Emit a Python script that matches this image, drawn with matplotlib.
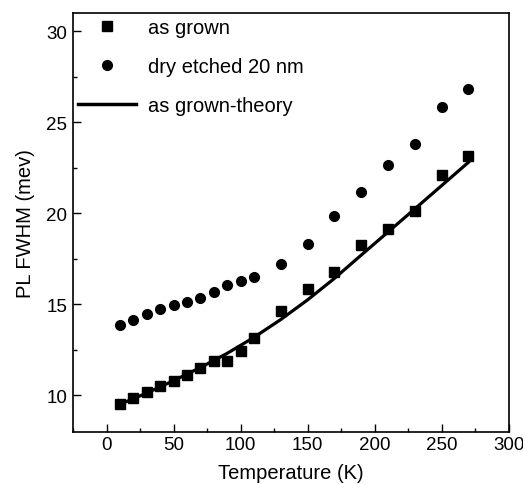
import matplotlib
matplotlib.use("Agg")
import matplotlib.pyplot as plt
from matplotlib.ticker import MultipleLocator
from matplotlib.lines import Line2D

plt.rcParams['font.family'] = ['Liberation Sans', 'DejaVu Sans']

temps = [10, 20, 30, 40, 50, 60, 70, 80, 90, 100, 110, 130, 150, 170, 190, 210, 230, 250, 270]
as_grown = [9.5, 9.85, 10.15, 10.48, 10.79, 11.12, 11.48, 11.89, 11.89, 12.45, 13.17,
            14.63, 15.81, 16.79, 18.24, 19.14, 20.13, 22.1, 23.13]
dry_etched = [13.85, 14.14, 14.45, 14.73, 14.95, 15.1, 15.37, 15.68, 16.04, 16.28, 16.47,
              17.2, 18.3, 19.86, 21.18, 22.63, 23.82, 25.86, 26.81]
theory_T = [10, 30, 50, 70, 90, 110, 130, 150, 170, 190, 210, 230, 250, 270]
theory = [9.5, 10.12, 10.8, 11.52, 12.3, 13.18, 14.16, 15.24, 16.42, 17.7, 18.97, 20.24, 21.52, 22.8]

legend_labels = ["as grown", "dry etched 20 nm", "as grown-theory"]

fig = plt.figure(figsize=(5.23, 4.85), dpi=100)
ax = fig.add_axes([0.1396, 0.108, 0.833, 0.863])

ax.plot(theory_T, theory, color='black', lw=2.3)
ax.plot(temps, as_grown, 's', color='black', ms=7, mec='black')
ax.plot(temps, dry_etched, 'o', color='black', ms=7, mec='black')

ax.set_xlim(-25, 300)
ax.set_ylim(8, 31)
ax.xaxis.set_major_locator(MultipleLocator(50))
ax.xaxis.set_minor_locator(MultipleLocator(25))
ax.yaxis.set_major_locator(MultipleLocator(5))
ax.yaxis.set_minor_locator(MultipleLocator(2.5))
ax.tick_params(which='major', direction='in', length=6, width=1, labelsize=13.5)
ax.tick_params(axis='x', which='major', pad=3.5)
ax.tick_params(axis='y', which='major', pad=4)
ax.tick_params(which='minor', direction='in', length=3, width=1)
ax.tick_params(top=False, right=False, which='both')
for s in ax.spines.values():
    s.set_linewidth(1.2)

ax.set_xlabel("Temperature (K)", fontsize=14.5, labelpad=7)
ax.set_ylabel("PL FWHM (mev)", fontsize=14.5, labelpad=8)

handles = [Line2D([], [], ls='none', marker='s', color='black', ms=7),
           Line2D([], [], ls='none', marker='o', color='black', ms=7),
           Line2D([], [], color='black', lw=2.5)]
leg = ax.legend(handles, legend_labels, loc='upper left', bbox_to_anchor=(0.0, 1.0),
                frameon=False, fontsize=14.5, handlelength=2.9, handletextpad=0.55,
                labelspacing=1.0, borderaxespad=0.25, borderpad=0.0)

fig.savefig("out.png", dpi=100)
